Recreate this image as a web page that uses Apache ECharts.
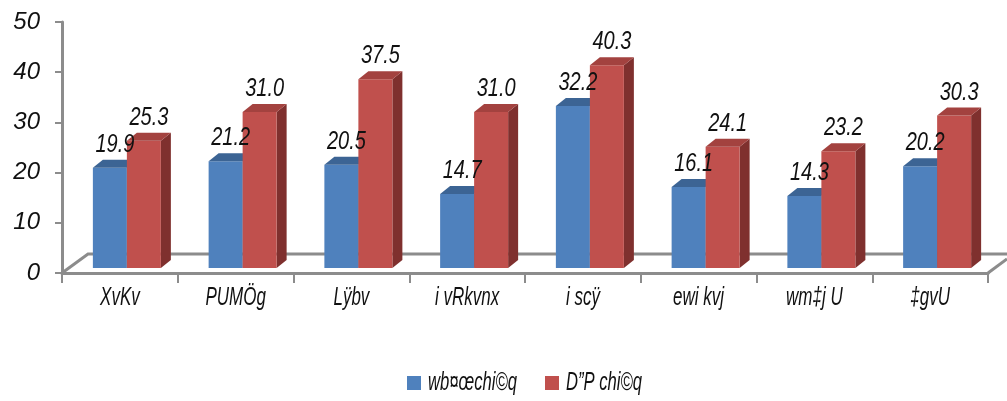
<!DOCTYPE html>
<html>
<head>
<meta charset="utf-8">
<script src="https://cdn.jsdelivr.net/npm/echarts@6/dist/echarts.min.js"></script>
<style>
html,body{margin:0;padding:0;background:#fff;}
#chart{width:1007px;height:401px;}
</style>
</head>
<body>
<div id="chart"></div>
<script>
// ---- data ----
const categories = ['XvKv', 'PUMÖg', 'Lÿbv', 'i vRkvnx', 'i scÿ', 'ewi kvj', 'wm‡j U', '‡gvU'];
const seriesNames = ['wb¤œchi©q', 'D”P chi©q'];
const lowValues = [19.9, 21.2, 20.5, 14.7, 32.2, 16.1, 14.3, 20.2];
const highValues = [25.3, 31.0, 37.5, 31.0, 40.3, 24.1, 23.2, 30.3];
const yTicks = [0, 10, 20, 30, 40, 50];

// ---- style ----
const font = "'Liberation Sans', Arial, sans-serif";
const palette = [
  {front: '#4F81BD', top: '#3C6494', side: '#32557F'},
  {front: '#C0504D', top: '#A3423F', side: '#7F302E'}
];
const DX = 10, DY = -8, BW = 34;

function barX(c, sIdx) { return c + (sIdx === 0 ? -27 : 7); }

function barRenderer(sIdx) {
  return function (params, api) {
    const cat = api.value(0), v = api.value(1);
    const base = api.coord([cat, 0]);
    const top = api.coord([cat, v]);
    const x0 = barX(base[0], sIdx);
    const ty = top[1], by = base[1];
    const col = palette[sIdx];
    return {
      type: 'group',
      children: [
        {type: 'polygon', shape: {points: [[x0 + BW, ty], [x0 + BW + DX, ty + DY], [x0 + BW + DX, by + DY], [x0 + BW, by]]}, style: {fill: col.side}},
        {type: 'rect', shape: {x: x0, y: ty, width: BW, height: by - ty}, style: {fill: col.front}},
        {type: 'polygon', shape: {points: [[x0, ty], [x0 + BW, ty], [x0 + BW + DX, ty + DY], [x0 + DX, ty + DY]]}, style: {fill: col.top}}
      ]
    };
  };
}

function valueLabelRenderer(params, api) {
  const cat = api.value(0), v = api.value(1), sIdx = api.value(2);
  const base = api.coord([cat, 0]);
  const top = api.coord([cat, v]);
  const x0 = barX(base[0], sIdx);
  return {
    type: 'text', x: x0 + BW / 2 + DX / 2, y: top[1] - 23, scaleX: 0.8,
    style: {text: v.toFixed(1), fill: '#111', font: 'italic 25px ' + font, align: 'center', verticalAlign: 'middle'}
  };
}

function catLabelRenderer(params, api) {
  const i = api.value(0);
  const p = api.coord([i, 0]);
  const cs = params.coordSys;
  return {
    type: 'text', x: p[0], y: cs.y + cs.height + 25, scaleX: 0.68,
    style: {text: categories[i], fill: '#111', font: 'italic 25px ' + font, align: 'center', verticalAlign: 'middle'}
  };
}

function floorRenderer(params, api) {
  const cs = params.coordSys;
  const fx = cs.x, fy = cs.y + cs.height, right = cs.x + cs.width;
  const bx = fx + 26, byy = fy - 19;
  const st = {stroke: '#8C8C8C', lineWidth: 3, fill: null};
  return {
    type: 'group',
    children: [
      {type: 'polyline', shape: {points: [[fx, fy], [bx, byy], [right + 19, byy]]}, style: st},
      {type: 'line', shape: {x1: right, y1: fy, x2: right + 19, y2: fy - 14}, style: st}
    ]
  };
}

function legendGraphic() {
  const items = [];
  const starts = [407, 545];
  seriesNames.forEach((name, k) => {
    items.push({type: 'rect', left: starts[k], top: 376, shape: {width: 14, height: 14}, style: {fill: palette[k].front}});
    items.push({type: 'text', x: starts[k] + 21, y: 383, scaleX: 0.64,
      style: {text: name, fill: '#111', font: 'italic 26px ' + font, align: 'left', verticalAlign: 'middle'}});
  });
  return items;
}

const chart = echarts.init(document.getElementById('chart'));
chart.setOption({
  animation: false,
  backgroundColor: '#fff',
  grid: {left: 62, right: 19, top: 22, bottom: 128, containLabel: false},
  graphic: legendGraphic(),
  xAxis: {
    type: 'category', data: categories, boundaryGap: true,
    axisLine: {lineStyle: {color: '#8C8C8C', width: 3}},
    axisTick: {show: true, length: 10, lineStyle: {color: '#8C8C8C', width: 2}},
    axisLabel: {show: false},
    splitLine: {show: false}
  },
  yAxis: [
    {
      type: 'value', min: yTicks[0], max: yTicks[yTicks.length - 1], interval: 10,
      axisLine: {show: true, lineStyle: {color: '#8C8C8C', width: 3}},
      axisTick: {show: true, length: 7, lineStyle: {color: '#8C8C8C', width: 2}},
      axisLabel: {margin: 22, fontFamily: font, fontStyle: 'italic', fontSize: 24, color: '#111'},
      splitLine: {show: false}
    },
    {
      type: 'value', min: -1, max: 48.9, show: false, splitLine: {show: false}
    }
  ],
  series: [
    {type: 'custom', name: '_floor', renderItem: floorRenderer, data: [[0, 0]], silent: true, z: 1, yAxisIndex: 1},
    {type: 'custom', name: seriesNames[0], yAxisIndex: 1, z: 2,
     renderItem: barRenderer(0), data: lowValues.map((v, i) => [i, v]), encode: {x: 0, y: 1}},
    {type: 'custom', name: seriesNames[1], yAxisIndex: 1, z: 3,
     renderItem: barRenderer(1), data: highValues.map((v, i) => [i, v]), encode: {x: 0, y: 1}},
    {type: 'custom', name: '_valueLabels', yAxisIndex: 1, z: 10, silent: true,
     renderItem: valueLabelRenderer,
     data: lowValues.map((v, i) => [i, v, 0]).concat(highValues.map((v, i) => [i, v, 1])), encode: {x: 0, y: 1}},
    {type: 'custom', name: '_catLabels', yAxisIndex: 1, z: 10, silent: true,
     renderItem: catLabelRenderer, data: categories.map((c, i) => [i, 0]), encode: {x: 0, y: 1}}
  ]
});
</script>
</body>
</html>
